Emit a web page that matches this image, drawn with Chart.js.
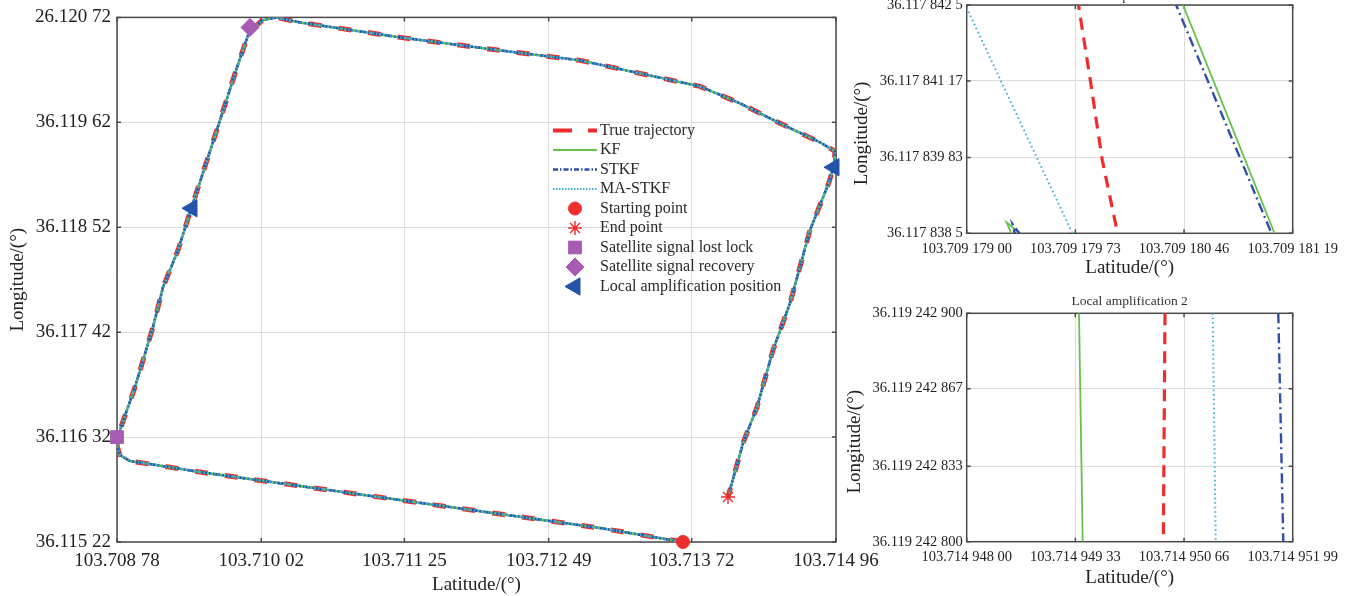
<!DOCTYPE html>
<html>
<head>
<meta charset="utf-8">
<script src="https://cdn.jsdelivr.net/npm/chart.js@4.4.1/dist/chart.umd.min.js"></script>
<style>
  body { margin: 0; width: 1354px; height: 596px; overflow: hidden; background: #fff; position: relative; }
  canvas { position: absolute; }
</style>
</head>
<body>
<canvas id="main" width="900" height="596" style="left:0;top:0"></canvas>
<canvas id="amp1" width="514" height="314" style="left:840px;top:-24px"></canvas>
<canvas id="amp2" width="514" height="306" style="left:840px;top:290px"></canvas>
<script>
// ---- main figure: whole trajectory, start -> end (deg) ----
const trackLat = [103.7136449, 103.7129315, 103.712072, 103.7112125, 103.710353, 103.7094934, 103.7090636,
  103.7088917, 103.7088058, 103.70878, 103.7087886, 103.7088144, 103.7089347, 103.7090894, 103.7091754,
  103.7093043, 103.7094075, 103.7095536, 103.7096653, 103.7098114, 103.7099146, 103.7100263, 103.7101467,
  103.710353, 103.7112125, 103.712072, 103.7127596, 103.7132753, 103.7137911, 103.7141349, 103.7144787,
  103.7148225, 103.7149514, 103.7149428, 103.71490, 103.7147365, 103.7145646, 103.7144185, 103.714281,
  103.7141607, 103.7140317];
const trackLon = [36.11522, 36.1153667, 36.1155133, 36.11566, 36.1158067, 36.1159533, 36.1160371,
  36.1160686, 36.1161314, 36.1162257, 36.11632, 36.1164248, 36.1168438, 36.1174724, 36.1178914,
  36.118279, 36.1186771, 36.1192219, 36.119641, 36.1201962, 36.1205629, 36.1206886, 36.12072,
  36.1206676, 36.1205105, 36.1203743, 36.1202695, 36.1201333, 36.1199971, 36.119819, 36.1196095,
  36.1194105, 36.1193162, 36.1191695, 36.1189914, 36.1184886, 36.1177238, 36.1172314, 36.1166343,
  36.1162571, 36.1156914];
// at this scale the KF / STKF / MA-STKF estimates sit on the true track
const kfLat = trackLat, kfLon = trackLon;
const stkfLat = trackLat, stkfLon = trackLon;
const maLat = trackLat, maLon = trackLon;

const startLat = [103.7136449], startLon = [36.11522];
const endLat = [103.7140317], endLon = [36.1156914];
const lostLat = [103.70878], lostLon = [36.11632];
const recovLat = [103.7099232], recovLon = [36.1206152];
const ampLat = [103.70942465, 103.7149428], ampLon = [36.118719, 36.1191486];

const mainXTicks = [103.70878, 103.71002, 103.71125, 103.71249, 103.71372, 103.71496];
const mainXLabels = ['103.708 78', '103.710 02', '103.711 25', '103.712 49', '103.713 72', '103.714 96'];
const mainYTicks = [36.11522, 36.11632, 36.11742, 36.11852, 36.11962, 36.12072];
const mainYLabels = ['36.115 22', '36.116 32', '36.117 42', '36.118 52', '36.119 62', '26.120 72'];

// ---- local amplification 1 ----
const a1TrueLat = [103.7091797434, 103.7091798304, 103.7091799108, 103.7091800179];
const a1TrueLon = [36.1178426219, 36.1178411836, 36.1178397804, 36.1178384474];
const a1KfLat = [103.7091804399, 103.7091810761, null, 103.7091793817, 103.7091792679, 103.7091793081];
const a1KfLon = [36.1178425868, 36.1178384474, null, 36.1178384474, 36.1178386929, 36.1178384474];
const a1StkfLat = [103.709180393, 103.709181056, null, 103.7091793683, 103.7091793081, 103.7091793282];
const a1StkfLon = [36.1178425868, 36.1178384474, null, 36.1178384474, 36.1178386579, 36.1178384474];
const a1MaLat = [103.70917896, 103.7091797099];
const a1MaLon = [36.11784267, 36.1178385];
const a1XTicks = [103.709179, 103.70917973, 103.70918046, 103.70918119];
const a1XLabels = ['103.709 179 00', '103.709 179 73', '103.709 180 46', '103.709 181 19'];
const a1YTicks = [36.1178385, 36.11783983, 36.11784117, 36.1178425];
const a1YLabels = ['36.117 838 5', '36.117 839 83', '36.117 841 17', '36.117 842 5'];

// ---- local amplification 2 ----
const a2TrueLat = [103.714950427, 103.7149504063], a2TrueLon = [36.1192429, 36.1192428];
const a2KfLat = [103.7149493745, 103.7149494198], a2KfLon = [36.1192429, 36.1192428];
const a2StkfLat = [103.7149518138, 103.714951875], a2StkfLon = [36.1192429, 36.1192428];
const a2MaLat = [103.7149510109, 103.7149510476], a2MaLon = [36.1192429, 36.1192428];
const a2XTicks = [103.714948, 103.71494933, 103.71495066, 103.71495199];
const a2XLabels = ['103.714 948 00', '103.714 949 33', '103.714 950 66', '103.714 951 99'];
const a2YTicks = [36.1192428, 36.119242833, 36.119242867, 36.1192429];
const a2YLabels = ['36.119 242 800', '36.119 242 833', '36.119 242 867', '36.119 242 900'];

const SERIF = '"Liberation Serif", "DejaVu Serif", serif';
const RED = '#ef2d2d', GREEN = '#66c24a', BLUE = '#2f4fa8', CYAN = '#3aaed6', PURPLE = '#a75bb2', TRI = '#2553a8';

function pts(xs, ys) {
  return xs.map((x, i) => ({x: x, y: ys[i]}));
}

function lineSet(label, xs, ys, color, width, dash, order, extra) {
  return Object.assign({
    label: label, data: pts(xs, ys), showLine: true, pointRadius: 0, borderColor: color,
    backgroundColor: color, borderWidth: width, borderDash: dash, tension: 0, order: order
  }, extra || {});
}

function markSet(label, xs, ys, style, radius, fill, border, bw, rot) {
  return {
    label: label, data: pts(xs, ys), showLine: false, pointStyle: style, pointRadius: radius,
    pointRotation: rot || 0, backgroundColor: fill, borderColor: border, borderWidth: bw,
    pointBorderWidth: bw, clip: false, order: 0
  };
}

function axisOpts(vals, labels, title, o) {
  return {
    type: 'linear',
    position: o.pos,
    min: vals[0],
    max: vals[vals.length - 1],
    afterBuildTicks: s => { s.ticks = vals.map(v => ({value: v})); },
    afterFit: s => { if (s.isHorizontal()) s.height = o.size; else s.width = o.size; },
    grid: {color: '#dcdcdc', lineWidth: 1, drawTicks: false},
    border: {display: false},
    ticks: {
      autoSkip: false, maxRotation: 0, minRotation: 0, padding: o.tickPad, color: '#222',
      font: {family: SERIF, size: o.tickSize}, callback: (v, i) => labels[i]
    },
    title: {display: true, text: title, color: '#222', font: {family: SERIF, size: 19}, padding: o.titlePad}
  };
}

// box round the plot with short inward ticks
const framePlugin = {
  id: 'frame',
  beforeDatasetsDraw(chart, args, opts) {
    const {ctx, chartArea: a} = chart;
    const x = chart.scales.x, y = chart.scales.y;
    ctx.save();
    ctx.strokeStyle = '#4a4a4a';
    ctx.lineWidth = 1.5;
    ctx.strokeRect(a.left, a.top, a.right - a.left, a.bottom - a.top);
    ctx.beginPath();
    x.ticks.forEach(t => {
      const p = x.getPixelForValue(t.value);
      ctx.moveTo(p, a.bottom); ctx.lineTo(p, a.bottom - 4);
      ctx.moveTo(p, a.top); ctx.lineTo(p, a.top + 4);
    });
    y.ticks.forEach(t => {
      const p = y.getPixelForValue(t.value);
      ctx.moveTo(a.left, p); ctx.lineTo(a.left + 4, p);
      ctx.moveTo(a.right, p); ctx.lineTo(a.right - 4, p);
    });
    ctx.stroke();
    ctx.restore();
  }
};

// legend drawn inside the plot, like the original figure
const legendPlugin = {
  id: 'trackLegend',
  afterDatasetsDraw(chart, args, opts) {
    const ctx = chart.ctx;
    ctx.save();
    ctx.font = opts.font;
    ctx.textBaseline = 'middle';
    chart.data.datasets.forEach((ds, i) => {
      const y = opts.top + i * opts.step;
      if (ds.showLine) {
        ctx.strokeStyle = ds.borderColor;
        ctx.lineWidth = ds.legendWidth || ds.borderWidth;
        ctx.setLineDash(ds.legendDash || []);
        ctx.beginPath();
        ctx.moveTo(opts.left, y);
        ctx.lineTo(opts.left + opts.sample, y);
        ctx.stroke();
        ctx.setLineDash([]);
      } else {
        ctx.fillStyle = ds.backgroundColor;
        ctx.strokeStyle = ds.borderColor;
        ctx.lineWidth = ds.borderWidth;
        Chart.helpers.drawPoint(ctx, {
          pointStyle: ds.pointStyle, radius: ds.legendRadius || ds.pointRadius,
          rotation: ds.pointRotation, borderWidth: ds.borderWidth
        }, opts.left + opts.sample / 2, y);
      }
      ctx.fillStyle = '#2a2a2a';
      ctx.fillText(ds.label, opts.left + opts.sample + 3, y);
    });
    ctx.restore();
  }
};

const baseOpts = {
  responsive: false,
  animation: false,
  devicePixelRatio: 1,
  events: []
};

new Chart(document.getElementById('main').getContext('2d'), {
  type: 'scatter',
  data: {
    datasets: [
      lineSet('True trajectory', trackLat, trackLon, RED, 5, [13, 17], 4, {legendDash: [19, 16], legendWidth: 4}),
      lineSet('KF', kfLat, kfLon, GREEN, 2.5, [], 3, {legendWidth: 2}),
      lineSet('STKF', stkfLat, stkfLon, BLUE, 2.6, [7, 2, 2, 2], 2, {legendDash: [5, 2, 1.5, 2], legendWidth: 2.5}),
      lineSet('MA-STKF', maLat, maLon, CYAN, 2.4, [1.5, 2], 1, {legendDash: [1.5, 1.5], legendWidth: 2}),
      markSet('Starting point', startLat, startLon, 'circle', 6.5, RED, RED, 1),
      markSet('End point', endLat, endLon, 'star', 7, RED, RED, 1.4),
      markSet('Satellite signal lost lock', lostLat, lostLon, 'rect', 9, PURPLE, PURPLE, 1),
      markSet('Satellite signal recovery', recovLat, recovLon, 'rectRot', 9, PURPLE, PURPLE, 1),
      markSet('Local amplification position', ampLat, ampLon, 'triangle', 10, TRI, TRI, 1, -90)
    ]
  },
  options: Object.assign({}, baseOpts, {
    layout: {padding: {left: 0, top: 17, right: 64, bottom: 0}},
    plugins: {
      legend: {display: false},
      tooltip: {enabled: false},
      trackLegend: {left: 553, top: 130.5, step: 19.5, sample: 44, font: '16px ' + SERIF}
    },
    scales: {
      x: axisOpts(mainXTicks, mainXLabels, 'Latitude/(°)',
        {pos: 'bottom', size: 54, tickPad: 8, tickSize: 19, titlePad: {top: 0, bottom: 0}}),
      y: axisOpts(mainYTicks, mainYLabels, 'Longitude/(°)',
        {pos: 'left', size: 117, tickPad: 6, tickSize: 19, titlePad: {top: 6.6, bottom: 0}})
    }
  }),
  plugins: [framePlugin, legendPlugin]
});

function insetSets(tLat, tLon, kLat, kLon, sLat, sLon, mLat, mLon, redDash) {
  return [
    lineSet('True trajectory', tLat, tLon, RED, 3.2, redDash, 4, {clip: 0}),
    lineSet('KF', kLat, kLon, GREEN, 1.8, [], 3, {clip: 0}),
    lineSet('STKF', sLat, sLon, BLUE, 2.4, [10, 4, 2, 4], 2, {clip: 0}),
    lineSet('MA-STKF', mLat, mLon, CYAN, 2, [1.5, 3], 1, {clip: 0})
  ];
}

const yPad = '\u00a0\u00a0\u00a0\u00a0\u00a0\u00a0';

new Chart(document.getElementById('amp1').getContext('2d'), {
  type: 'scatter',
  data: {datasets: insetSets(a1TrueLat, a1TrueLon, a1KfLat, a1KfLon, a1StkfLat, a1StkfLon, a1MaLat, a1MaLon, [12, 8])},
  options: Object.assign({}, baseOpts, {
    layout: {padding: {left: 0, top: 0, right: 61.3, bottom: 0}},
    plugins: {
      legend: {display: false},
      tooltip: {enabled: false},
      title: {display: true, text: 'Local amplification 1', fullSize: false, color: '#333',
        font: {family: SERIF, size: 13.5, weight: 'normal'}, padding: {top: 12, bottom: 0.8}}
    },
    scales: {
      x: axisOpts(a1XTicks, a1XLabels, 'Latitude/(°)',
        {pos: 'bottom', size: 56.7, tickPad: 7, tickSize: 14.5, titlePad: {top: 0, bottom: 10.6}}),
      y: axisOpts(a1YTicks, a1YLabels, 'Longitude/(°)' + yPad,
        {pos: 'left', size: 126.7, tickPad: 4, tickSize: 14.5, titlePad: {top: 10.6, bottom: 0}})
    }
  }),
  plugins: [framePlugin]
});

new Chart(document.getElementById('amp2').getContext('2d'), {
  type: 'scatter',
  data: {datasets: insetSets(a2TrueLat, a2TrueLon, a2KfLat, a2KfLon, a2StkfLat, a2StkfLon, a2MaLat, a2MaLon, [12, 7])},
  options: Object.assign({}, baseOpts, {
    layout: {padding: {left: 0, top: 0, right: 61.3, bottom: 0}},
    plugins: {
      legend: {display: false},
      tooltip: {enabled: false},
      title: {display: true, text: 'Local amplification 2', fullSize: false, color: '#333',
        font: {family: SERIF, size: 13.5, weight: 'normal'}, padding: {top: 3, bottom: 4.1}}
    },
    scales: {
      x: axisOpts(a2XTicks, a2XLabels, 'Latitude/(°)',
        {pos: 'bottom', size: 54.3, tickPad: 7, tickSize: 14.5, titlePad: {top: 0, bottom: 6.6}}),
      y: axisOpts(a2YTicks, a2YLabels, 'Longitude/(°)' + yPad,
        {pos: 'left', size: 126.7, tickPad: 4, tickSize: 14.5, titlePad: {top: 3.6, bottom: 0}})
    }
  }),
  plugins: [framePlugin]
});
</script>
</body>
</html>
